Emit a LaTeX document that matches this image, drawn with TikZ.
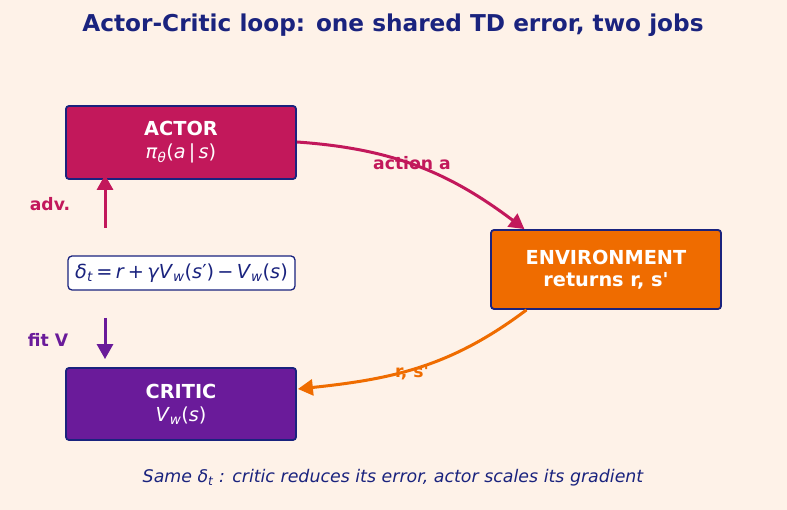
\documentclass[tikz,border=0pt]{standalone}
\usepackage{fontspec}
\setmainfont{DejaVu Sans}[Ligatures=TeXOff]
\usetikzlibrary{arrows.meta,positioning,calc}

\definecolor{bgcream}{HTML}{FEF2E8}
\definecolor{navy}{HTML}{1A237E}
\definecolor{actorred}{HTML}{C2185B}
\definecolor{criticpurple}{HTML}{6A1B9A}
\definecolor{envorange}{HTML}{EF6C00}

\newcommand{\vv}[1]{\textit{#1}}
\newcommand{\lowsub}[1]{\textsubscript{\vv{#1}}}

\begin{document}
\begin{tikzpicture}[x=1pt,y=1pt,
    box/.style={draw=navy,line width=1.8pt,rounded corners=3pt,text=white,
      minimum width=230pt,align=center,font=\fontsize{19.3}{23}\selectfont},
    flow/.style={line width=3pt,-{Triangle[length=15pt,width=16pt]}},
    lbl/.style={font=\fontsize{17.2}{20}\selectfont\bfseries}]
  \fill[bgcream] (0,0) rectangle (787,510);
  \useasboundingbox (0,0) rectangle (787,510);

  \node[font=\fontsize{23.2}{28}\selectfont\bfseries,text=navy] (title) at (393,485)
    {Actor-Critic loop: one shared TD error, two jobs};

  \node[box,fill=actorred,minimum height=73pt] (actor) at (181,367.5)
    {\textbf{ACTOR}\\\vv{π}\lowsub{θ}(\vv{a}\,|\,\vv{s})};
  \node[box,fill=criticpurple,minimum height=72pt] (critic) at (181,106)
    {\textbf{CRITIC}\\\vv{V}\lowsub{w}(\vv{s})};
  \node[box,fill=envorange,minimum height=79pt,font=\fontsize{19.3}{22}\selectfont\bfseries] (env) at (606,240.5)
    {ENVIRONMENT\\returns r, s'};
  \node[draw=navy,line width=1.3pt,rounded corners=4pt,fill=white,text=navy,
    minimum width=227pt,minimum height=34pt,font=\fontsize{19.3}{22}\selectfont] (td) at (181.5,237)
    {\vv{δ}\lowsub{t}\,=\,\vv{r}\,+\,\vv{γV}\lowsub{w}(\vv{s}′)\,−\,\vv{V}\lowsub{w}(\vv{s})};

  % environment loop
  \coordinate (envin) at ($(env.north west)!0.148!(env.north east)$);
  \coordinate (envout) at ($(env.south west)!0.157!(env.south east)$);
  \draw[flow,actorred] (actor.east) ++(0,0.5) to[out=-4,in=143] (envin);
  \draw[flow,envorange] (envout) to[out=-143,in=6] ([xshift=1pt,yshift=15pt]critic.east);
  \node[lbl,text=actorred] (actlbl) at (412,347) {action a};
  \node[lbl,text=envorange] (rslbl) at (412,138) {r, s'};

  % the shared TD error
  \coordinate (advfrom) at (105,282);
  \coordinate (fitfrom) at (105,192);
  \draw[flow,actorred] (advfrom) -- ([yshift=5pt]advfrom |- actor.south);
  \draw[flow,criticpurple] (fitfrom) -- ([yshift=8pt]fitfrom |- critic.north);
  \node[lbl,text=actorred] (advlbl) at (50,306) {adv.};
  \node[lbl,text=criticpurple] (fitlbl) at (48,170) {fit V};

  \node[font=\fontsize{17.4}{21}\selectfont\itshape,text=navy] (note) at (393,32)
    {Same \vv{δ}\lowsub{t} : critic reduces its error, actor scales its gradient};
\end{tikzpicture}
\end{document}
